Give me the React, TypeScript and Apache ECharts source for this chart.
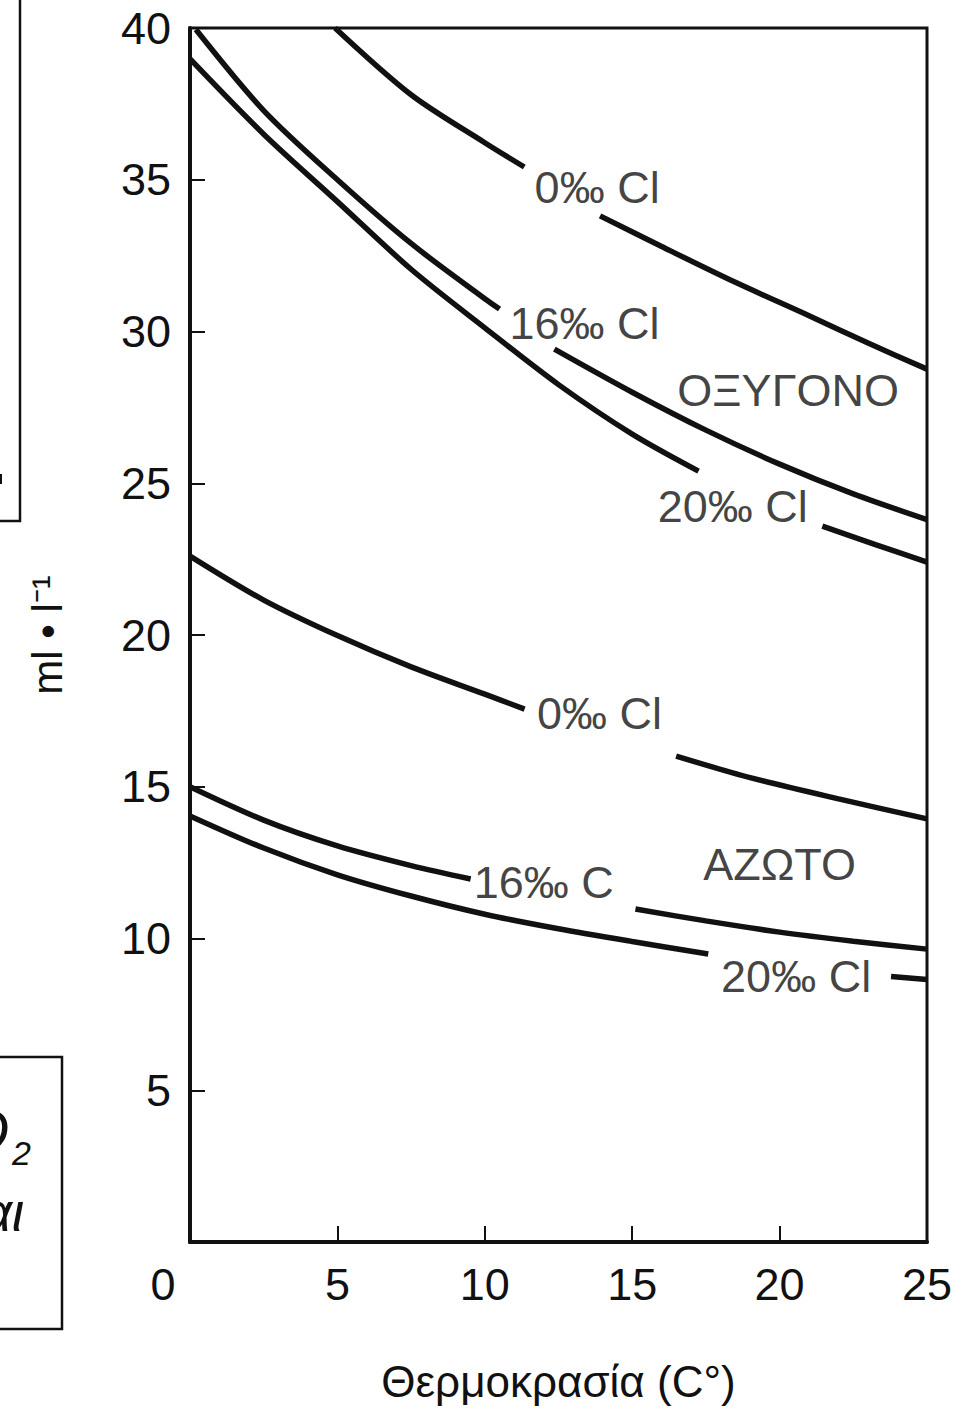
import React, { useEffect, useRef } from 'react';
import * as echarts from 'echarts';

// Axis ranges (°C and ml·l⁻¹)
const X_MIN = 0, X_MAX = 25, X_STEP = 5;
const Y_MIN = 0, Y_MAX = 40, Y_STEP = 5;

// Oxygen (ΟΞΥΓΟΝΟ) curves, [temperature, ml/l]; each curve broken where its label sits
const oxygen0a = [[4.92, 40.0], [7.5, 37.8], [10, 36.22], [11.34, 35.42]];
const oxygen0b = [[13.91, 33.81], [16, 32.8], [18.5, 31.62], [21, 30.52], [23, 29.62], [25, 28.76]];
const oxygen16a = [[0.2, 39.95], [2.5, 37.28], [5, 35.0], [7.5, 32.9], [10, 31.08], [10.5, 30.74]];
const oxygen16b = [[12.36, 29.42], [15, 28.0], [17.5, 26.75], [20, 25.63], [22.5, 24.65], [25, 23.8]];
const oxygen20a = [[0, 38.98], [2.5, 36.5], [5, 34.28], [7.5, 32.05], [10, 30.12], [12.5, 28.25], [15, 26.62], [17.25, 25.4]];
const oxygen20b = [[21.45, 23.59], [23.25, 22.98], [25, 22.4]];

// Nitrogen (ΑΖΩΤΟ) curves
const nitrogen0a = [[0, 22.6], [2.5, 21.15], [5, 19.98], [7.5, 18.95], [10, 18.05], [11.35, 17.56]];
const nitrogen0b = [[16.49, 16.01], [19, 15.3], [22, 14.6], [25, 13.94]];
const nitrogen16a = [[0, 15.0], [2.5, 13.9], [5, 13.05], [7.5, 12.4], [9.52, 11.96]];
const nitrogen16b = [[15.11, 10.97], [17.5, 10.58], [20, 10.21], [22.5, 9.91], [25, 9.65]];
const nitrogen20a = [[0, 14.04], [2.5, 12.98], [5, 12.1], [7.5, 11.4], [10, 10.8], [12.5, 10.32], [15, 9.9], [17.58, 9.49]];
const nitrogen20b = [[23.78, 8.75], [25, 8.65]];

const segments = [
  oxygen0a, oxygen0b, oxygen16a, oxygen16b, oxygen20a, oxygen20b,
  nitrogen0a, nitrogen0b, nitrogen16a, nitrogen16b, nitrogen20a, nitrogen20b,
];

// In-plot labels, anchored in data coordinates
const labelTexts = ['0‰ Cl', '16‰ Cl', 'ΟΞΥΓΟΝΟ', '20‰ Cl', '0‰ Cl', 'ΑΖΩΤΟ', '16‰ C', '20‰ Cl'];
const labelTemps = [13.81, 13.38, 20.29, 18.41, 13.89, 20.0, 12.0, 20.56];
const labelValues = [34.76, 30.25, 28.04, 24.22, 17.4, 12.45, 11.83, 8.76];

const X_TITLE = 'Θερμοκρασία (C°)';
const Y_TITLE = 'ml • l⁻¹';

const FONT = '"Liberation Sans", Arial, Helvetica, sans-serif';
const INK = '#111';

export default function App() {
  const ref = useRef<HTMLDivElement>(null);

  useEffect(() => {
    if (!ref.current) return;
    const chart = echarts.init(ref.current, undefined, { renderer: 'svg' });

    const lineSeries = segments.map((seg) => ({
      type: 'line',
      data: seg,
      smooth: 0.3,
      symbol: 'none',
      clip: true,
      lineStyle: { color: INK, width: 5.5, cap: 'butt' },
      silent: true,
      z: 3,
    }));

    const labelSeries = {
      type: 'scatter',
      data: labelTexts.map((t, i) => ({ name: t, value: [labelTemps[i], labelValues[i]] })),
      symbolSize: 0,
      itemStyle: { color: 'transparent' },
      silent: true,
      z: 4,
      label: {
        show: true,
        position: 'inside',
        formatter: '{b}',
        fontSize: 45,
        fontFamily: FONT,
        color: INK,
      },
    };

    chart.setOption({
      animation: false,
      backgroundColor: '#ffffff',
      grid: {
        left: 190,
        right: 44,
        top: 28,
        bottom: 169,
        show: true,
        borderColor: INK,
        borderWidth: 3,
        containLabel: false,
      },
      xAxis: {
        type: 'value',
        min: X_MIN,
        max: X_MAX,
        interval: X_STEP,
        axisLine: { show: true, lineStyle: { color: INK, width: 4 } },
        axisTick: { show: true, inside: true, length: 16, lineStyle: { color: INK, width: 2 } },
        splitLine: { show: false },
        axisLabel: {
          margin: 20,
          fontSize: 45,
          fontFamily: FONT,
          color: INK,
          formatter: (v: number) => (v === 0 ? '{z|0}' : String(v)),
          rich: { z: { fontSize: 45, fontFamily: FONT, color: INK, padding: [0, 54, 0, 0] } },
        },
        name: X_TITLE,
        nameLocation: 'middle',
        nameGap: 117,
        nameTextStyle: { fontSize: 44, fontFamily: FONT, color: INK },
      },
      yAxis: {
        type: 'value',
        min: Y_MIN,
        max: Y_MAX,
        interval: Y_STEP,
        axisLine: { show: true, lineStyle: { color: INK, width: 4 } },
        axisTick: { show: true, inside: true, length: 15, lineStyle: { color: INK, width: 2 } },
        splitLine: { show: false },
        axisLabel: {
          margin: 19,
          fontSize: 45,
          fontFamily: FONT,
          color: INK,
          formatter: (v: number) => (v === 0 ? '' : String(v)),
        },
        name: Y_TITLE,
        nameLocation: 'middle',
        nameRotate: 90,
        nameGap: 122,
        nameTextStyle: { fontSize: 42, fontFamily: FONT, color: INK },
      },
      graphic: [
        {
          type: 'polyline',
          shape: { points: [[20, 0], [20, 521], [0, 521]] },
          style: { stroke: INK, lineWidth: 2.5, fill: 'none' },
          silent: true,
        },
        {
          type: 'rect',
          shape: { x: 0, y: 474, width: 2, height: 10 },
          style: { fill: INK },
          silent: true,
        },
        {
          type: 'rect',
          shape: { x: -2, y: 1057, width: 64, height: 272 },
          style: { stroke: INK, lineWidth: 2.5, fill: 'none' },
          silent: true,
        },
        {
          type: 'text',
          x: 9,
          y: 1130,
          style: {
            text: 'O',
            fontSize: 58,
            fontStyle: 'italic',
            fontFamily: FONT,
            fill: INK,
            align: 'right',
            verticalAlign: 'middle',
          },
          silent: true,
        },
        {
          type: 'text',
          x: 12,
          y: 1153,
          style: {
            text: '2',
            fontSize: 34,
            fontStyle: 'italic',
            fontFamily: FONT,
            fill: INK,
            align: 'left',
            verticalAlign: 'middle',
          },
          silent: true,
        },
        {
          type: 'text',
          x: 24,
          y: 1212,
          style: {
            text: 'και',
            fontSize: 54,
            fontStyle: 'italic',
            fontFamily: FONT,
            fill: INK,
            align: 'right',
            verticalAlign: 'middle',
          },
          silent: true,
        },
      ],
      series: [...lineSeries, labelSeries],
    });

    return () => chart.dispose();
  }, []);

  return (
    <div
      ref={ref}
      style={{ position: 'absolute', left: 0, top: 0, width: 971, height: 1411, background: '#fff' }}
    />
  );
}
